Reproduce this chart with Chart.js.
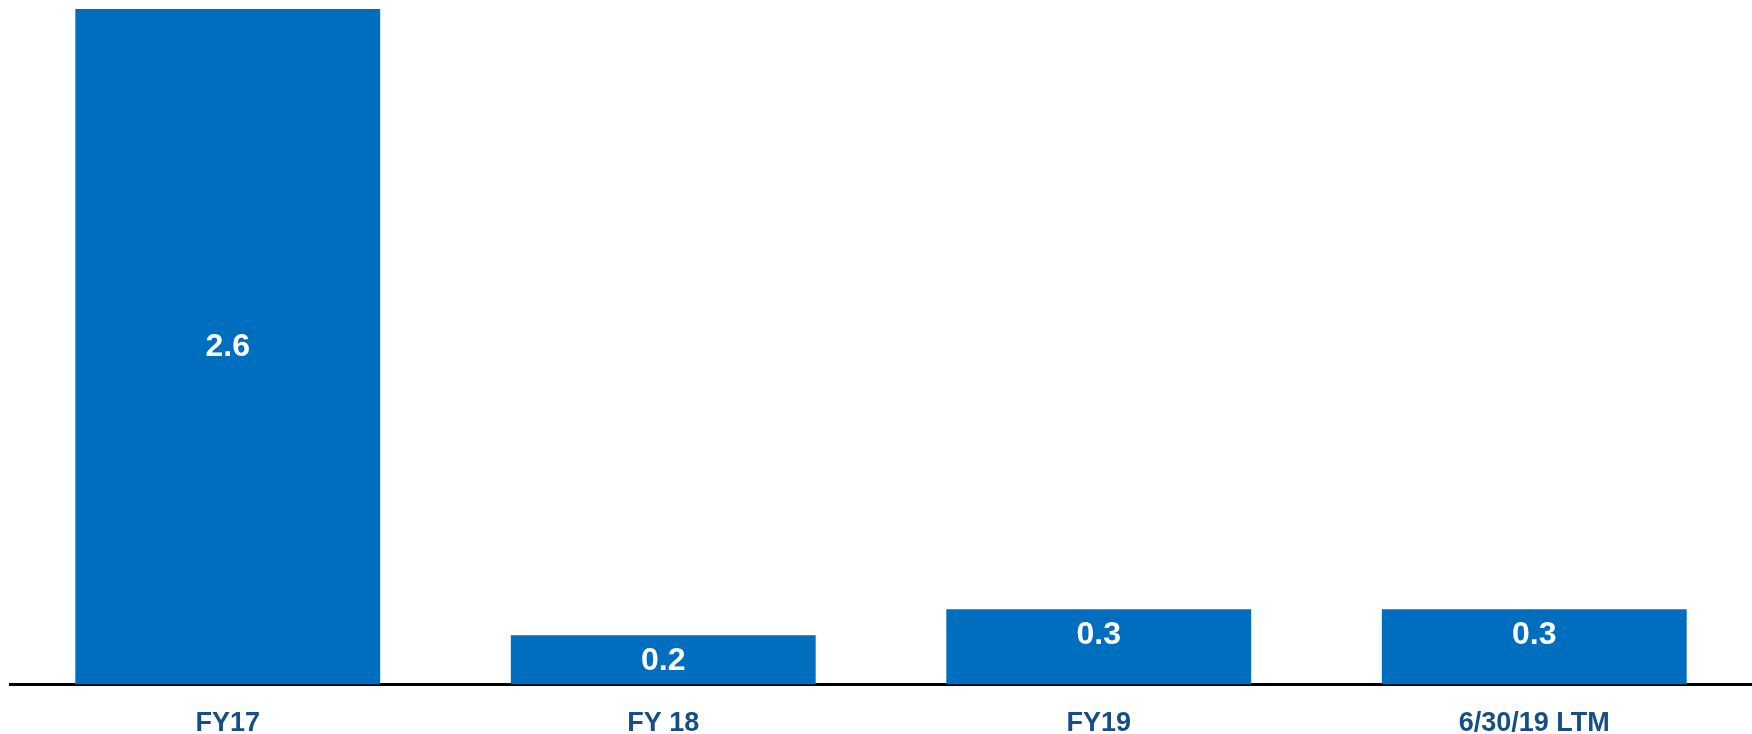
<!DOCTYPE html>
<html>
<head>
<meta charset="utf-8">
<script src="https://cdn.jsdelivr.net/npm/chart.js@4/dist/chart.umd.min.js"></script>
<style>
  html, body { margin: 0; padding: 0; background: #ffffff; overflow: hidden; }
  #wrap { width: 1752px; height: 734px; overflow: hidden; position: relative; }
  canvas { display: block; }
</style>
</head>
<body>
<div id="wrap"><canvas id="c" width="1752" height="763"></canvas></div>
<script>
const categories = ["FY17", "FY 18", "FY19", "6/30/19 LTM"];
const values = [2.6, 0.19, 0.29, 0.29];
const valueLabels = ["2.6", "0.2", "0.3", "0.3"];

const BAR_COLOR = "#006EBE";
const LABEL_COLOR = "#164F86";
const FONT = "'Liberation Sans', Arial, sans-serif";

const barLabels = {
  id: "barLabels",
  afterDatasetsDraw(chart) {
    const ctx = chart.ctx;
    const meta = chart.getDatasetMeta(0);
    ctx.save();
    ctx.fillStyle = "#ffffff";
    ctx.font = "bold 32px " + FONT;
    ctx.textAlign = "center";
    ctx.textBaseline = "middle";
    meta.data.forEach((bar, i) => {
      const p = bar.getProps(["x", "y", "base"], true);
      const h = p.base - p.y;
      const yc = h > 120 ? (p.y + p.base) / 2 : p.y + 26;
      ctx.fillText(valueLabels[i], p.x, yc);
    });
    ctx.restore();
  }
};

new Chart(document.getElementById("c"), {
  type: "bar",
  data: {
    labels: categories,
    datasets: [{
      data: values,
      backgroundColor: BAR_COLOR,
      borderWidth: 0,
      categoryPercentage: 1.0,
      barPercentage: 0.7
    }]
  },
  options: {
    responsive: false,
    devicePixelRatio: 1,
    animation: false,
    layout: { padding: { top: 9, left: 10, right: 0, bottom: 0 } },
    plugins: { legend: { display: false }, tooltip: { enabled: false } },
    scales: {
      x: {
        grid: { display: false, drawTicks: false },
        border: { display: true, color: "#000000", width: 3 },
        ticks: {
          color: LABEL_COLOR,
          font: { family: FONT, size: 27, weight: "bold", lineHeight: 1.2 },
          padding: 23,
          maxRotation: 0,
          autoSkip: false
        }
      },
      y: {
        display: false,
        min: 0,
        max: 2.6
      }
    }
  },
  plugins: [barLabels]
});
</script>
</body>
</html>
